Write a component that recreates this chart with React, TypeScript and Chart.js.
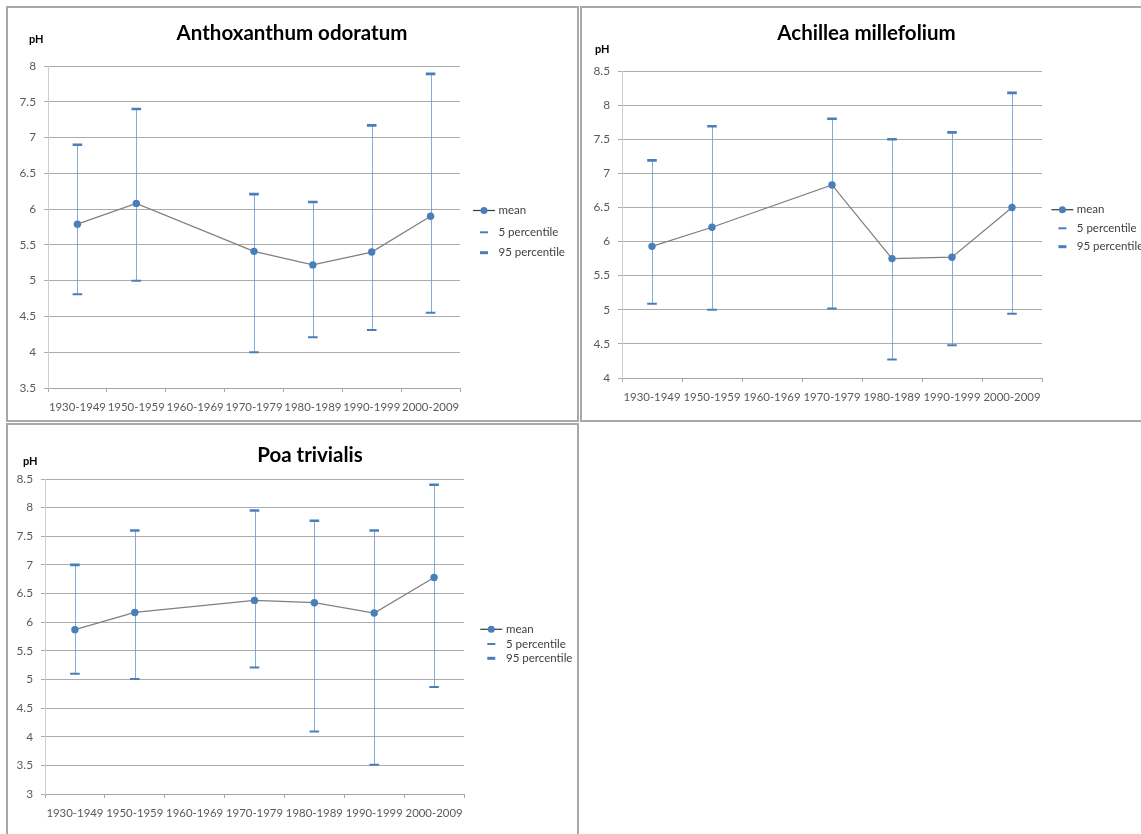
import React, { useEffect, useRef } from "react";
import { Chart, registerables } from "chart.js";

Chart.register(...registerables);

// Sampling periods shared by all three species
const periods = [
  "1930-1949",
  "1950-1959",
  "1960-1969",
  "1970-1979",
  "1980-1989",
  "1990-1999",
  "2000-2009",
];

const seriesLabels = ["mean", "5 percentile", "95 percentile"];

// Anthoxanthum odoratum
const anthoMean = [5.79, 6.08, null, 5.41, 5.22, 5.4, 5.9];
const anthoP5 = [4.81, 5.0, null, 4.0, 4.21, 4.31, 4.55];
const anthoP95 = [6.9, 7.4, null, 6.21, 6.1, 7.17, 7.89];
const anthoTicks = [3.5, 4, 4.5, 5, 5.5, 6, 6.5, 7, 7.5, 8];

// Achillea millefolium
const achilleaMean = [5.93, 6.21, null, 6.83, 5.75, 5.77, 6.5];
const achilleaP5 = [5.09, 5.0, null, 5.02, 4.27, 4.48, 4.94];
const achilleaP95 = [7.19, 7.69, null, 7.8, 7.5, 7.6, 8.18];
const achilleaTicks = [4, 4.5, 5, 5.5, 6, 6.5, 7, 7.5, 8, 8.5];

// Poa trivialis
const poaMean = [5.87, 6.17, null, 6.38, 6.34, 6.16, 6.78];
const poaP5 = [5.1, 5.01, null, 5.21, 4.09, 3.51, 4.87];
const poaP95 = [7.0, 7.6, null, 7.95, 7.77, 7.6, 8.4];
const poaTicks = [3, 3.5, 4, 4.5, 5, 5.5, 6, 6.5, 7, 7.5, 8, 8.5];

const BLUE = "#4a7ebb";
const WHISKER = "rgba(100, 150, 210, 0.8)";
const LINE_GREY = "#7f7f7f";
const FONT = "Lato, 'Open Sans', sans-serif";
const TICK_SIZE = 11.4;

type Num = number | null;

// Thin vertical range line joining the 5 and 95 percentile of each period
const whiskerPlugin = {
  id: "whiskers",
  beforeDatasetsDraw(chart: any) {
    const low: Num[] = chart.data.datasets[1].data;
    const high: Num[] = chart.data.datasets[2].data;
    const xs = chart.scales.x;
    const ys = chart.scales.y;
    const ctx = chart.ctx;
    ctx.save();
    ctx.strokeStyle = WHISKER;
    ctx.lineWidth = 1;
    low.forEach((lo, i) => {
      const hi = high[i];
      if (lo == null || hi == null) return;
      const x = Math.round(xs.getPixelForValue(i)) + 0.5;
      ctx.beginPath();
      ctx.moveTo(x, ys.getPixelForValue(lo));
      ctx.lineTo(x, ys.getPixelForValue(hi));
      ctx.stroke();
    });
    ctx.restore();
  },
};

// Legend to the right of the plot: line+dot for the mean, dashes for the percentiles
const sideLegendPlugin = {
  id: "sideLegend",
  afterDraw(chart: any, _args: any, opts: any) {
    const ctx = chart.ctx;
    const { cx, textX, rows } = opts;
    const sets = chart.data.datasets;
    ctx.save();
    rows.forEach((y: number, i: number) => {
      if (i === 0) {
        ctx.strokeStyle = "#404040";
        ctx.lineWidth = 1.25;
        ctx.beginPath();
        ctx.moveTo(cx - 11, y);
        ctx.lineTo(cx + 11, y);
        ctx.stroke();
        ctx.fillStyle = BLUE;
        ctx.beginPath();
        ctx.arc(cx, y, 3.5, 0, Math.PI * 2);
        ctx.fill();
      } else {
        ctx.strokeStyle = BLUE;
        ctx.lineWidth = i === 1 ? 2 : 3;
        ctx.beginPath();
        ctx.moveTo(cx - 4, y);
        ctx.lineTo(cx + 4, y);
        ctx.stroke();
      }
      ctx.fillStyle = "#404040";
      ctx.font = `11.5px ${FONT}`;
      ctx.textBaseline = "middle";
      ctx.textAlign = "left";
      ctx.fillText(sets[i].label, textX, y);
    });
    ctx.restore();
  },
};

type PanelProps = {
  left: number;
  top: number;
  width: number;
  height: number;
  borders: { top: boolean; right: boolean; bottom: boolean; left: boolean };
  title: string;
  titleAt: [number, number];
  phAt: [number, number];
  mean: Num[];
  p5: Num[];
  p95: Num[];
  yTicks: number[];
  yAxisWidth: number;
  padding: { top: number; right: number; bottom: number; left: number };
  legend: { cx: number; textX: number; rows: number[] };
};

function SpeciesPanel(p: PanelProps) {
  const ref = useRef<HTMLCanvasElement | null>(null);
  const bw = 2;
  const innerW = p.width - (p.borders.left ? bw : 0) - (p.borders.right ? bw : 0);
  const innerH = p.height - (p.borders.top ? bw : 0) - (p.borders.bottom ? bw : 0);

  useEffect(() => {
    if (!ref.current) return;
    const chart = new Chart(ref.current, {
      type: "line",
      data: {
        labels: periods,
        datasets: [
          {
            label: seriesLabels[0],
            data: p.mean,
            borderColor: LINE_GREY,
            borderWidth: 1.25,
            pointBackgroundColor: BLUE,
            pointBorderColor: BLUE,
            pointBorderWidth: 0,
            pointRadius: 3.7,
            spanGaps: true,
            order: 0,
          },
          {
            label: seriesLabels[1],
            data: p.p5,
            showLine: false,
            pointStyle: "line",
            pointRadius: 4.8,
            pointBorderWidth: 2,
            pointBorderColor: BLUE,
            order: 1,
          },
          {
            label: seriesLabels[2],
            data: p.p95,
            showLine: false,
            pointStyle: "line",
            pointRadius: 4.8,
            pointBorderWidth: 2.6,
            pointBorderColor: BLUE,
            order: 2,
          },
        ],
      },
      options: {
        responsive: false,
        animation: false,
        events: [],
        layout: { padding: p.padding, autoPadding: false },
        plugins: {
          legend: { display: false },
          title: { display: false },
          tooltip: { enabled: false },
          sideLegend: p.legend,
        } as any,
        scales: {
          x: {
            offset: true,
            grid: {
              offset: true,
              drawOnChartArea: false,
              drawTicks: true,
              tickLength: 4,
              color: "#a6a6a6",
            },
            border: { color: "#a6a6a6" },
            ticks: {
              autoSkip: false,
              maxRotation: 0,
              minRotation: 0,
              padding: 8,
              color: "#595959",
              font: { family: FONT, size: TICK_SIZE },
            },
            afterFit: (s: any) => {
              s.height = 26;
            },
          },
          y: {
            min: p.yTicks[0],
            max: p.yTicks[p.yTicks.length - 1],
            afterBuildTicks: (s: any) => {
              s.ticks = p.yTicks.map((v) => ({ value: v }));
            },
            grid: { color: "#ababab", tickLength: 4 },
            border: { color: "#cfcfcf" },
            ticks: {
              padding: 8,
              color: "#595959",
              font: { family: FONT, size: TICK_SIZE + 0.4 },
              callback: (v: any) => String(v),
            },
            afterFit: (s: any) => {
              s.width = p.yAxisWidth;
            },
          },
        },
      },
      plugins: [whiskerPlugin, sideLegendPlugin],
    });
    return () => chart.destroy();
  }, []);

  const border = "2px solid #a8a8a8";
  return (
    <div
      style={{
        position: "absolute",
        left: p.left,
        top: p.top,
        width: p.width,
        height: p.height,
        boxSizing: "border-box",
        borderTop: p.borders.top ? border : "none",
        borderRight: p.borders.right ? border : "none",
        borderBottom: p.borders.bottom ? border : "none",
        borderLeft: p.borders.left ? border : "none",
        background: "#fff",
        overflow: "hidden",
      }}
    >
      <canvas
        ref={ref}
        width={innerW}
        height={innerH}
        style={{ position: "absolute", left: 0, top: 0, width: innerW, height: innerH }}
      />
      <div
        style={{
          position: "absolute",
          left: p.titleAt[0],
          top: p.titleAt[1],
          transform: "translate(-50%, -50%)",
          whiteSpace: "nowrap",
          fontFamily: FONT,
          fontWeight: 700,
          fontSize: 20.5,
          color: "#000",
          lineHeight: 1,
        }}
      >
        {p.title}
      </div>
      <div
        style={{
          position: "absolute",
          left: p.phAt[0],
          top: p.phAt[1],
          transform: "translateY(-50%)",
          whiteSpace: "nowrap",
          fontFamily: FONT,
          fontWeight: 700,
          fontSize: 11,
          color: "#000",
          lineHeight: 1,
        }}
      >
        pH
      </div>
    </div>
  );
}

export default function App() {
  return (
    <div style={{ position: "relative", width: 1141, height: 834, overflow: "hidden" }}>
      <div style={{ position: "fixed", left: 0, top: 0, width: 1141, height: 834, overflow: "hidden", background: "#fff" }}>
        <SpeciesPanel
          left={6}
          top={6}
          width={573}
          height={416}
          borders={{ top: true, right: true, bottom: true, left: true }}
          title="Anthoxanthum odoratum"
          titleAt={[284, 24]}
          phAt={[21, 30]}
          mean={anthoMean}
          p5={anthoP5}
          p95={anthoP95}
          yTicks={anthoTicks}
          yAxisWidth={40}
          padding={{ top: 58, right: 117, bottom: 6, left: 0 }}
          legend={{ cx: 476, textX: 490.5, rows: [202.5, 224.3, 244.7] }}
        />
        <SpeciesPanel
          left={580}
          top={6}
          width={561}
          height={416}
          borders={{ top: true, right: false, bottom: true, left: true }}
          title="Achillea millefolium"
          titleAt={[284.5, 24]}
          phAt={[13, 40]}
          mean={achilleaMean}
          p5={achilleaP5}
          p95={achilleaP95}
          yTicks={achilleaTicks}
          yAxisWidth={40}
          padding={{ top: 63, right: 99, bottom: 16, left: 0 }}
          legend={{ cx: 480.4, textX: 494.8, rows: [201.7, 220.3, 238.7] }}
        />
        <SpeciesPanel
          left={6}
          top={423}
          width={573}
          height={411}
          borders={{ top: true, right: true, bottom: false, left: true }}
          title="Poa trivialis"
          titleAt={[302, 28.5]}
          phAt={[15, 34.5]}
          mean={poaMean}
          p5={poaP5}
          p95={poaP95}
          yTicks={poaTicks}
          yAxisWidth={37}
          padding={{ top: 54, right: 113, bottom: 14, left: 0 }}
          legend={{ cx: 483.3, textX: 498, rows: [204.3, 219, 233.3] }}
        />
      </div>
    </div>
  );
}
